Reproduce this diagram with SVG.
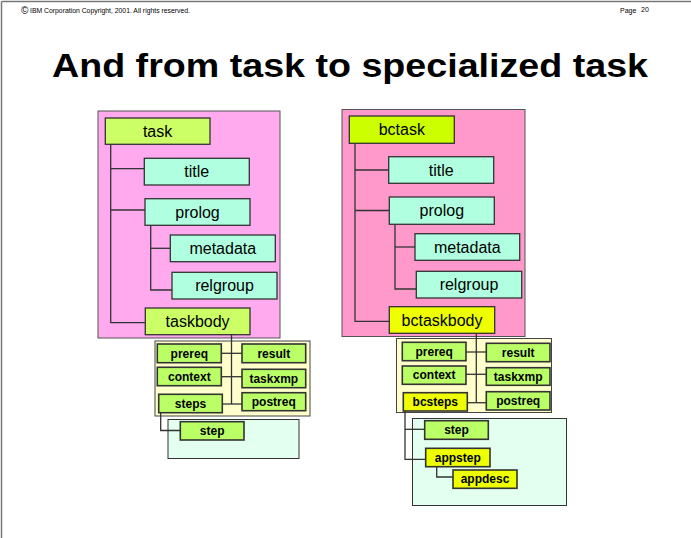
<svg xmlns="http://www.w3.org/2000/svg" width="691" height="538" viewBox="0 0 691 538">
<style>
  .hdr{font-family:"Liberation Sans",Arial,sans-serif;font-size:7px;fill:#000}
  .ttl{font-family:"Liberation Sans",Arial,sans-serif;font-size:34px;font-weight:bold;fill:#000}
  .big{font-family:"Liberation Sans",Arial,sans-serif;font-size:16px;fill:#000;text-anchor:middle}
  .sm{font-family:"Liberation Sans",Arial,sans-serif;font-size:12px;font-weight:bold;fill:#000;text-anchor:middle}
  .lime{fill:#CCFF66;stroke:#333;stroke-width:1.3}
  .bclime{fill:#CCFF00;stroke:#333;stroke-width:1.3}
  .bcyel{fill:#EEFF00;stroke:#333;stroke-width:1.3}
  .aqua{fill:#B0FFE0;stroke:#333;stroke-width:1.3}
  .gr{fill:#BBFF66;stroke:#333;stroke-width:1.6}
  .yl{fill:#EEFF00;stroke:#333;stroke-width:1.6}
  .cont{fill:#FFFFCC;stroke:#444;stroke-width:1}
  .lgc{fill:#E2FFF0;stroke:#333;stroke-width:1}
  .conn line,.conn polyline{stroke:#333;stroke-width:1.3;fill:none}
</style>
<rect x="0" y="0" width="691" height="538" fill="#fff"/>
<g id="frame" stroke="#777" stroke-width="1.5" fill="none">
  <line x1="1.5" y1="1.5" x2="691" y2="1.5"/>
  <line x1="1.5" y1="1.5" x2="1.5" y2="538"/>
</g>
<g id="header">
  <text x="21" y="13.5" font-family="Liberation Sans,Arial,sans-serif" font-size="10">©</text>
  <text class="hdr" x="30" y="13" textLength="160" lengthAdjust="spacingAndGlyphs">IBM Corporation Copyright, 2001.  All rights reserved.</text>
  <text class="hdr" x="620" y="13">Page</text>
  <text class="hdr" x="641" y="12">20</text>
</g>
<text id="title" class="ttl" x="52" y="77" textLength="596" lengthAdjust="spacingAndGlyphs">And from task to specialized task</text>

<!-- containers -->
<g id="left-container"><rect x="98" y="111" width="182" height="227" fill="#FFAAEE" stroke="#555" stroke-width="1"/></g>
<g id="right-container"><rect x="342" y="109.5" width="183" height="227" fill="#FF99CC" stroke="#555" stroke-width="1"/></g>
<g id="left-body-container"><rect class="cont" x="155" y="341" width="155" height="75"/></g>
<g id="right-body-container"><rect class="cont" x="396.5" y="338.5" width="155" height="74"/></g>
<g id="left-steps-container"><rect class="lgc" x="168" y="419.5" width="131" height="39"/></g>
<g id="right-steps-container"><rect class="lgc" x="412.5" y="418.5" width="154" height="87"/></g>

<g class="conn" id="connectors">
  <!-- left tree -->
  <polyline points="110.7,144 110.7,322.7 145,322.7"/>
  <line x1="110.7" y1="168.7" x2="144" y2="168.7"/>
  <line x1="110.7" y1="210" x2="145" y2="210"/>
  <polyline points="150.7,225 150.7,290 172,290"/>
  <line x1="150.7" y1="248.3" x2="170" y2="248.3"/>
  <polyline points="231.5,335 231.5,404"/>
  <line x1="221.3" y1="353.3" x2="242" y2="353.3"/>
  <line x1="221.3" y1="376.7" x2="242" y2="376.7"/>
  <line x1="222.3" y1="404" x2="242" y2="404"/>
  <polyline points="160.7,412.7 160.7,430.5 180.3,430.5"/>
  <!-- right tree -->
  <polyline points="355,143 355,321.3 389.3,321.3"/>
  <line x1="355" y1="170" x2="388.7" y2="170"/>
  <line x1="355" y1="210.5" x2="389.3" y2="210.5"/>
  <polyline points="395,224.3 395,289 416.3,289"/>
  <line x1="395" y1="247" x2="415" y2="247"/>
  <polyline points="476.3,333.3 476.3,402.7"/>
  <line x1="466" y1="352" x2="486.3" y2="352"/>
  <line x1="466" y1="374.3" x2="486.3" y2="374.3"/>
  <line x1="467.3" y1="402.7" x2="486.3" y2="402.7"/>
  <polyline points="405,411 405,459.3 425.7,459.3"/>
  <line x1="405" y1="429.3" x2="424.7" y2="429.3"/>
  <polyline points="436.7,466.7 436.7,477 453,477"/>
</g>

<!-- left nodes -->
<g id="task"><rect class="lime" x="105.3" y="118" width="104.7" height="26.3"/><text class="big" x="157.6" y="137">task</text></g>
<g id="title-l"><rect class="aqua" x="144.3" y="158.3" width="105" height="26.7"/><text class="big" x="196.8" y="177.4">title</text></g>
<g id="prolog-l"><rect class="aqua" x="145" y="198.7" width="105" height="26.6"/><text class="big" x="197.5" y="217.6">prolog</text></g>
<g id="metadata-l"><rect class="aqua" x="170.3" y="235" width="105" height="26.7"/><text class="big" x="222.8" y="254">metadata</text></g>
<g id="relgroup-l"><rect class="aqua" x="172" y="272.3" width="105" height="26.7"/><text class="big" x="224.5" y="291.3">relgroup</text></g>
<g id="taskbody"><rect class="lime" x="145.3" y="308" width="104.7" height="26.7"/><text class="big" x="197.6" y="327">taskbody</text></g>
<g id="prereq-l"><rect class="gr" x="157.3" y="344" width="64" height="18.7"/><text class="sm" x="189.3" y="357.6">prereq</text></g>
<g id="context-l"><rect class="gr" x="157.3" y="367.3" width="64" height="18.4"/><text class="sm" x="189.3" y="380.8">context</text></g>
<g id="steps-l"><rect class="gr" x="158.7" y="394.3" width="63.6" height="18.4"/><text class="sm" x="190.5" y="407.8">steps</text></g>
<g id="result-l"><rect class="gr" x="242" y="344" width="63.7" height="18.7"/><text class="sm" x="273.8" y="357.6">result</text></g>
<g id="taskxmp-l"><rect class="gr" x="242" y="369.3" width="63.7" height="18.4"/><text class="sm" x="273.8" y="382.8">taskxmp</text></g>
<g id="postreq-l"><rect class="gr" x="242" y="392.7" width="63.7" height="18"/><text class="sm" x="273.8" y="405.9">postreq</text></g>
<g id="step-l"><rect class="gr" x="180.3" y="421.7" width="63.7" height="18.3"/><text class="sm" x="212.2" y="435">step</text></g>

<!-- right nodes -->
<g id="bctask"><rect class="bclime" x="349.3" y="116" width="105" height="27.3"/><text class="big" x="401.8" y="135.3">bctask</text></g>
<g id="title-r"><rect class="aqua" x="388.7" y="156.7" width="105" height="26.6"/><text class="big" x="441.2" y="175.7">title</text></g>
<g id="prolog-r"><rect class="aqua" x="389.3" y="197" width="105" height="27.3"/><text class="big" x="441.8" y="216.3">prolog</text></g>
<g id="metadata-r"><rect class="aqua" x="415" y="233.7" width="104.7" height="26.6"/><text class="big" x="467.3" y="252.7">metadata</text></g>
<g id="relgroup-r"><rect class="aqua" x="416.3" y="271.3" width="105.4" height="26.7"/><text class="big" x="469" y="290.3">relgroup</text></g>
<g id="bctaskbody"><rect class="bcyel" x="389.3" y="306.7" width="105.4" height="26.6"/><text class="big" x="442" y="325.7">bctaskbody</text></g>
<g id="prereq-r"><rect class="gr" x="402.3" y="342.3" width="63.7" height="18.4"/><text class="sm" x="434.2" y="355.8">prereq</text></g>
<g id="context-r"><rect class="gr" x="402.3" y="366" width="63.7" height="18.3"/><text class="sm" x="434.2" y="379.4">context</text></g>
<g id="bcsteps"><rect class="yl" x="403.3" y="392.7" width="64" height="18.3"/><text class="sm" x="435.3" y="406">bcsteps</text></g>
<g id="result-r"><rect class="gr" x="486.3" y="343.3" width="63.7" height="18.4"/><text class="sm" x="518.2" y="356.8">result</text></g>
<g id="taskxmp-r"><rect class="gr" x="486.3" y="367.7" width="63.7" height="17.6"/><text class="sm" x="518.2" y="380.8">taskxmp</text></g>
<g id="postreq-r"><rect class="gr" x="486.3" y="391.7" width="63.7" height="18.3"/><text class="sm" x="518.2" y="405">postreq</text></g>
<g id="step-r"><rect class="gr" x="424.7" y="420.7" width="63.6" height="18.6"/><text class="sm" x="456.5" y="434.2">step</text></g>
<g id="appstep"><rect class="yl" x="425.7" y="448.3" width="64.3" height="18.4"/><text class="sm" x="457.8" y="461.8">appstep</text></g>
<g id="appdesc"><rect class="yl" x="453" y="470" width="64" height="18.3"/><text class="sm" x="485" y="483.4">appdesc</text></g>
</svg>
